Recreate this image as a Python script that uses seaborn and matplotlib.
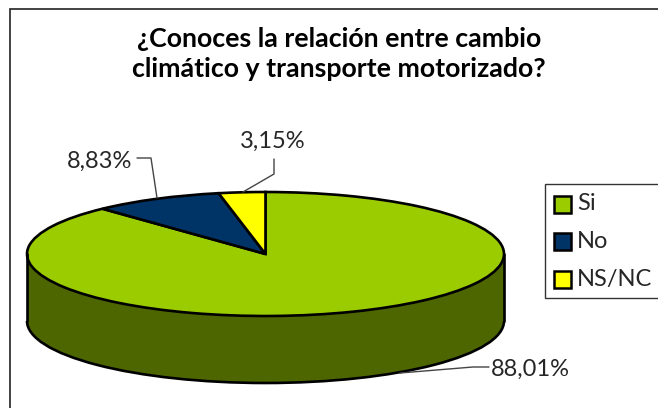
import matplotlib
matplotlib.use("Agg")
import matplotlib.pyplot as plt
import seaborn as sns
from matplotlib.patches import Rectangle, Circle, Arc

labels = ["Si", "No", "NS/NC"]
values = [88.01, 8.83, 3.15]
value_labels = ["88,01%", "8,83%", "3,15%"]
title = "¿Conoces la relación entre cambio\nclimático y transporte motorizado?"

sns.set_theme(style="white")
plt.rcParams["font.family"] = ["Lato", "DejaVu Sans"]
colors = sns.color_palette(["#9BCC00", "#003366", "#FFFF00"])
side_color = "#4D6600"

W, H = 658, 408
fig = plt.figure(figsize=(W / 100, H / 100), dpi=100)
bg = fig.add_axes([0, 0, 1, 1])
bg.set_xlim(0, W)
bg.set_ylim(H, 0)
bg.axis("off")
bg.add_patch(Rectangle((10, 9), W + 20, H + 20, fc="white", ec="#222222", lw=1.2))

cx, cy, rx, ry, depth = 265.5, 254, 238.5, 62, 67
lw = 1.9
ax = fig.add_axes([(cx - rx) / W, 1 - (cy + ry + depth) / H, 2 * rx / W, (2 * ry + depth) / H])
d = 2 * depth / (2 * ry)
ax.add_patch(Circle((0, -d), 1, fc=side_color, ec="none", clip_on=False))
ax.add_patch(Arc((0, -d), 2, 2, theta1=180, theta2=360, ec="black", lw=lw, clip_on=False))
ax.fill_between([-1, 1], -d, 0, color=side_color, lw=0)
ax.plot([-1, -1], [-d, 0], color="black", lw=lw, clip_on=False)
ax.plot([1, 1], [-d, 0], color="black", lw=lw, clip_on=False)
ax.pie(values, colors=colors, startangle=90, counterclock=False,
       wedgeprops=dict(edgecolor="black", linewidth=lw, clip_on=False))
ax.set_aspect("auto")
ax.set_xlim(-1, 1)
ax.set_ylim(-1 - d, 1)

bg.set_zorder(0)
ax.set_zorder(1)
top = fig.add_axes([0, 0, 1, 1], facecolor="none")
top.set_zorder(2)
top.set_xlim(0, W)
top.set_ylim(H, 0)
top.axis("off")

top.text(339, 54, title, ha="center", va="center", fontsize=19.3, fontweight="bold",
         color="black", linespacing=1.28)

tc = "#262626"
top.text(530, 369, value_labels[0], ha="center", va="center", fontsize=17, color=tc)
top.text(100, 161, value_labels[1], ha="center", va="center", fontsize=17, color=tc)
top.text(273, 141, value_labels[2], ha="center", va="center", fontsize=17, color=tc)
lc = "#444444"
top.plot([400, 473, 489], [373, 367, 367], color=lc, lw=1)
top.plot([137, 151, 157], [158, 158, 198], color=lc, lw=1)
top.plot([243, 274, 274], [192, 174, 159], color=lc, lw=1)

top.add_patch(Rectangle((545, 184), 130, 114, fc="white", ec="#333333", lw=1))
for i, (lab, y) in enumerate(zip(labels, [204, 241.5, 279.5])):
    top.add_patch(Rectangle((553.5, y - 8.5), 17, 17, fc=colors[i], ec="black", lw=1.8))
    top.text(577, y, lab, ha="left", va="center", fontsize=17, color=tc)

fig.savefig("out.png", dpi=100)
